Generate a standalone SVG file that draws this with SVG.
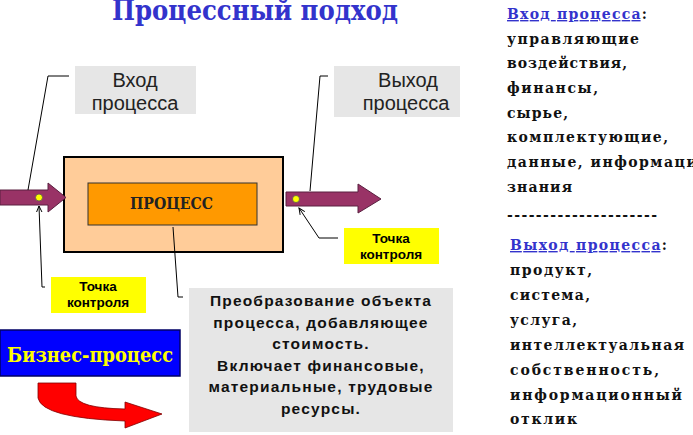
<svg xmlns="http://www.w3.org/2000/svg" width="693" height="435" viewBox="0 0 693 435">
<style>
.lbl{font-family:"Liberation Sans",Arial,sans-serif;font-size:20px;fill:#222;text-anchor:middle}
.ctl{font-family:"Liberation Sans",Arial,sans-serif;font-size:13.5px;font-weight:bold;fill:#000;text-anchor:middle}
.desc{font-family:"Liberation Sans",Arial,sans-serif;font-size:15.5px;font-weight:bold;fill:#111;text-anchor:middle;letter-spacing:1.2px}
.serif{font-family:"DejaVu Serif","Liberation Serif",serif;font-weight:bold}
.side{font-size:14px;fill:#111}
.hd{fill:#3333CC;text-decoration:underline}
.lead{fill:none;stroke:#000;stroke-width:1}
.flow{fill:#993366;stroke:#5a2040;stroke-width:1}
.dot{fill:#FFFF00;stroke:#555;stroke-width:0.8}
.gray{fill:#E6E6E6}
.yel{fill:#FFFF00}
</style>
<defs>
<marker id="ah" viewBox="0 0 10 10" refX="9" refY="5" markerWidth="7" markerHeight="7" orient="auto" markerUnits="userSpaceOnUse">
<path d="M0,1 L9,5 L0,9" fill="none" stroke="#000" stroke-width="1.4"/>
</marker>
</defs>
<rect width="693" height="435" fill="#fff"/>
<g id="title">
<text class="serif" x="112" y="20" font-size="27" fill="#3333CC" textLength="286" lengthAdjust="spacingAndGlyphs">Процессный подход</text>
</g>
<g id="input-label">
<rect class="gray" x="75" y="66" width="121" height="48"/>
<text class="lbl" x="135" y="87">Вход</text>
<text class="lbl" x="135" y="110">процесса</text>
</g>
<g id="output-label">
<rect class="gray" x="334" y="66" width="126" height="51"/>
<text class="lbl" x="408" y="87">Выход</text>
<text class="lbl" x="406" y="110">процесса</text>
</g>
<g id="process">
<rect x="64" y="157" width="219" height="95" fill="#FFCC99" stroke="#000" stroke-width="2"/>
<rect x="88" y="183" width="169" height="42" fill="#FF9900" stroke="#333" stroke-width="1"/>
<text class="serif" x="130" y="209" font-size="16.5" fill="#222" textLength="83" lengthAdjust="spacingAndGlyphs">ПРОЦЕСС</text>
</g>
<g id="input-arrow">
<path class="flow" d="M0,190 L48,190 L48,183 L66,197.5 L48,212 L48,205 L0,205 Z"/>
<circle class="dot" cx="39" cy="197.5" r="3.5"/>
</g>
<g id="output-arrow">
<path class="flow" d="M286,192 L358,192 L358,184 L381,199 L358,213 L358,206 L286,206 Z"/>
<circle class="dot" cx="296" cy="199" r="3.5"/>
</g>
<g id="control-left">
<rect class="yel" x="51" y="277" width="95" height="36"/>
<text class="ctl" x="98" y="291">Точка</text>
<text class="ctl" x="98" y="307">контроля</text>
</g>
<g id="control-right">
<rect class="yel" x="344" y="228" width="95" height="36"/>
<text class="ctl" x="391" y="243">Точка</text>
<text class="ctl" x="391" y="259">контроля</text>
</g>
<g id="description">
<rect class="gray" x="189" y="288" width="264" height="144"/>
<text class="desc" x="321" y="306">Преобразование объекта</text>
<text class="desc" x="321" y="328">процесса, добавляющее</text>
<text class="desc" x="321" y="349">стоимость.</text>
<text class="desc" x="321" y="371">Включает финансовые,</text>
<text class="desc" x="321" y="392">материальные, трудовые</text>
<text class="desc" x="321" y="414">ресурсы.</text>
</g>
<g id="business-process">
<rect x="0" y="330" width="180" height="46" fill="#0000FF" stroke="#000066" stroke-width="1.5"/>
<text class="serif" x="7" y="362" font-size="21" fill="#FFFF00" textLength="166" lengthAdjust="spacingAndGlyphs">Бизнес-процесс</text>
<path d="M38,383 L76,383 L76,396 Q78,408 125,409 L125,402 L162,414 L125,428 L125,421 Q42,418 38,398 Z" fill="#FF0000" stroke="#800000" stroke-width="0.8"/>
</g>
<g id="input-list" class="serif side">
<text x="507" y="19" textLength="140" lengthAdjust="spacing"><tspan class="hd">Вход процесса</tspan>:</text>
<text x="507" y="43.5" textLength="132" lengthAdjust="spacing">управляющие</text>
<text x="507" y="68" textLength="120" lengthAdjust="spacing">воздействия,</text>
<text x="507" y="93" textLength="91" lengthAdjust="spacing">финансы,</text>
<text x="507" y="117.5" textLength="61" lengthAdjust="spacing">сырье,</text>
<text x="507" y="142" textLength="161" lengthAdjust="spacing">комплектующие,</text>
<text x="507" y="167" textLength="208" lengthAdjust="spacing">данные, информация,</text>
<text x="507" y="191.5" textLength="65" lengthAdjust="spacing">знания</text>
<text x="507" y="220" textLength="150" lengthAdjust="spacing">---------------------</text>
</g>
<g id="output-list" class="serif side">
<text x="510" y="250" textLength="157" lengthAdjust="spacing"><tspan class="hd">Выход процесса</tspan>:</text>
<text x="510" y="275" textLength="82" lengthAdjust="spacing">продукт,</text>
<text x="510" y="300" textLength="80" lengthAdjust="spacing">система,</text>
<text x="510" y="325" textLength="67" lengthAdjust="spacing">услуга,</text>
<text x="510" y="350" textLength="174" lengthAdjust="spacing">интеллектуальная</text>
<text x="510" y="375" textLength="149" lengthAdjust="spacing">собственность,</text>
<text x="510" y="400" textLength="172" lengthAdjust="spacing">информационный</text>
<text x="510" y="424" textLength="67" lengthAdjust="spacing">отклик</text>
</g>
<g id="connectors">
<polyline class="lead" points="69,76 48,76 28,190"/>
<polyline class="lead" points="328,76 320,76 310,191"/>
<polyline class="lead" points="173,227 178,297 183,297"/>
<polyline class="lead" points="45,287 42,287 39,206" marker-end="url(#ah)"/>
<polyline class="lead" points="338,238 319,238 299,208" marker-end="url(#ah)"/>
</g>
</svg>
